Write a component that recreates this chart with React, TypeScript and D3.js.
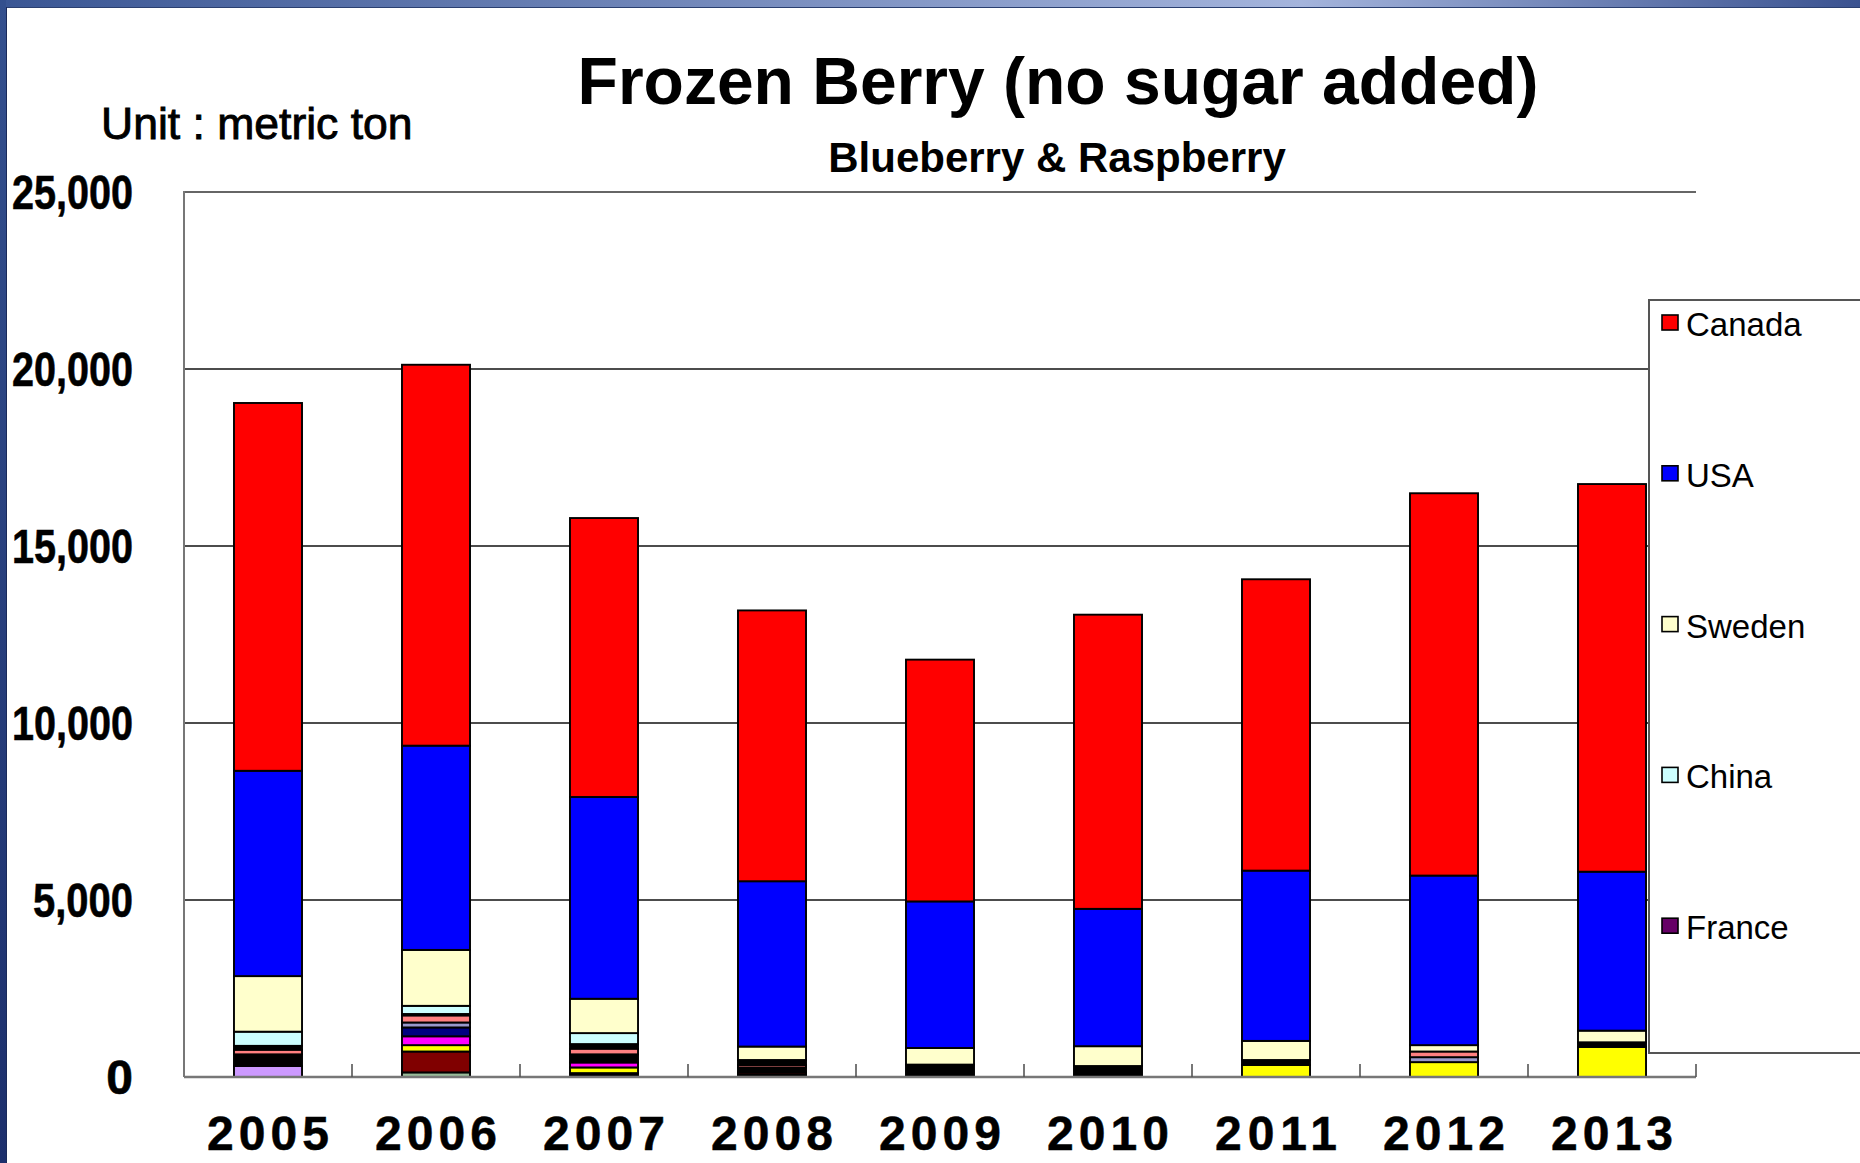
import React from "react";
import * as d3 from "d3";

const years = ["2005", "2006", "2007", "2008", "2009", "2010", "2011", "2012", "2013"];
const yTicks = [0, 5000, 10000, 15000, 20000, 25000];

// values in metric tons
const canada = [10390, 10760, 7880, 7650, 6830, 8310, 8230, 10800, 10950];
const usa = [5800, 5770, 5700, 4670, 4140, 3880, 4810, 4790, 4490];
const sweden = [1570, 1580, 970, 380, 470, 560, 540, 180, 330];
const china = [400, 230, 310, 0, 0, 0, 0, 0, 0];
const france = [0, 40, 0, 0, 0, 0, 0, 0, 0];
const otherA = [110, 0, 130, 140, 350, 310, 140, 0, 130];
const salmonSeries = [130, 200, 160, 70, 0, 0, 0, 160, 0];
const graySeries = [0, 140, 0, 0, 0, 0, 0, 140, 0];
const otherB = [330, 0, 230, 140, 0, 0, 0, 0, 0];
const navySeries = [0, 250, 0, 0, 0, 0, 0, 0, 0];
const magentaSeries = [0, 250, 140, 0, 0, 0, 0, 0, 0];
const yellowSeries = [0, 180, 160, 0, 0, 0, 340, 420, 850];
const maroonSeries = [0, 590, 0, 60, 0, 0, 0, 0, 0];
const lavenderSeries = [310, 0, 0, 0, 0, 0, 0, 0, 0];
const greenSeries = [0, 130, 0, 0, 0, 0, 0, 0, 0];
const otherC = [0, 0, 110, 70, 0, 0, 0, 0, 0];

// bottom -> top stacking order
const seriesList = [
  { key: "Other C", values: otherC, color: "#000000" },
  { key: "Other 7", values: greenSeries, color: "#99BB99" },
  { key: "Other 6", values: lavenderSeries, color: "#CC99FF" },
  { key: "Other 5", values: maroonSeries, color: "#800000" },
  { key: "Other 4", values: yellowSeries, color: "#FFFF00" },
  { key: "Other 3", values: magentaSeries, color: "#FF00FF" },
  { key: "Other 2", values: navySeries, color: "#000080" },
  { key: "Other B", values: otherB, color: "#000000" },
  { key: "Other 1b", values: graySeries, color: "#9999CC" },
  { key: "Other 1", values: salmonSeries, color: "#FF8080" },
  { key: "Other A", values: otherA, color: "#000000" },
  { key: "France", values: france, color: "#660066" },
  { key: "China", values: china, color: "#CCFFFF" },
  { key: "Sweden", values: sweden, color: "#FFFFCC" },
  { key: "USA", values: usa, color: "#0000FF" },
  { key: "Canada", values: canada, color: "#FF0000" },
];

const legendKeys = ["Canada", "USA", "Sweden", "China", "France"];

export default function App() {
  const W = 1860, H = 1163;
  const left = 184, right = 1696, top = 192, bottom = 1077;
  const x = d3.scaleBand<string>().domain(years).range([left, right]).padding(0);
  const y = d3.scaleLinear().domain([0, 25000]).range([bottom, top]);
  const barW = x.bandwidth() * 0.405;

  const table = years.map((yr, i) => {
    const row: any = { year: yr };
    seriesList.forEach((s) => (row[s.key] = s.values[i]));
    return row;
  });
  const stacked = d3.stack().keys(seriesList.map((s) => s.key))(table);
  const colorOf: Record<string, string> = {};
  seriesList.forEach((s) => (colorOf[s.key] = s.color));

  const font = "'Liberation Sans', Arial, sans-serif";

  return (
    <svg width={W} height={H} style={{ position: "fixed", left: 0, top: 0, background: "#fff" }}>
      <defs>
        <linearGradient id="topband" x1="0" x2="1" y1="0" y2="0">
          <stop offset="0" stopColor="#3a5694" />
          <stop offset="0.7" stopColor="#a4b4dc" />
          <stop offset="1" stopColor="#3a5290" />
        </linearGradient>
        <linearGradient id="leftband" x1="0" x2="0" y1="0" y2="1">
          <stop offset="0" stopColor="#34508e" />
          <stop offset="1" stopColor="#1c2f6c" />
        </linearGradient>
      </defs>
      <rect x={0} y={0} width={W} height={H} fill="#fff" />

      {/* gridlines */}
      {yTicks.slice(1).map((t) => (
        <line key={t} x1={left} x2={right} y1={y(t)} y2={y(t)}
          stroke={t === 25000 ? "#666" : "#111"} strokeWidth={t === 25000 ? 2 : 1.4} />
      ))}

      {/* bars */}
      {stacked.map((layer) => (
        <g key={layer.key} fill={colorOf[layer.key]}>
          {layer.map((d, i) => {
            const h = y(d[0]) - y(d[1]);
            if (h <= 0) return null;
            const cx = (x(years[i]) as number) + x.bandwidth() / 2;
            return (
              <rect key={i} x={cx - barW / 2} y={y(d[1])} width={barW} height={h}
                stroke="#000" strokeWidth={1.9} />
            );
          })}
        </g>
      ))}

      {/* axes */}
      <line x1={left} x2={left} y1={top - 1} y2={bottom} stroke="#777" strokeWidth={2} />
      <line x1={left} x2={right} y1={bottom} y2={bottom} stroke="#777" strokeWidth={2.5} />
      {years.map((yr, i) => {
        const bx = (x(yr) as number) + x.bandwidth();
        return <line key={"tk" + i} x1={bx} x2={bx} y1={bottom} y2={bottom - 13} stroke="#555" strokeWidth={1.6} />;
      })}

      {/* y tick labels */}
      {yTicks.map((t) => {
        const label = d3.format(",")(t);
        return (
          <text key={"yl" + t} x={133} y={y(t)} dy="0.36em" textAnchor="end" fontFamily={font}
            fontWeight="bold" fontSize={48} stroke="#000" strokeWidth={0.6}
            {...(label.length > 1 ? { textLength: label.length === 5 ? 100 : 121, lengthAdjust: "spacingAndGlyphs" } : {})}>
            {label}
          </text>
        );
      })}

      {/* x labels */}
      {years.map((yr) => {
        const cx = (x(yr) as number) + x.bandwidth() / 2;
        return (
          <text key={"xl" + yr} x={cx - 61} y={1150} fontFamily={font} fontWeight="bold" fontSize={48}
            textLength={122} lengthAdjust="spacing" stroke="#000" strokeWidth={0.5}>
            {yr}
          </text>
        );
      })}

      {/* titles */}
      <text x={1058} y={104} textAnchor="middle" fontFamily={font} fontWeight="bold" fontSize={66}>
        Frozen Berry (no sugar added)
      </text>
      <text x={1057} y={172} textAnchor="middle" fontFamily={font} fontWeight="bold" fontSize={42}>
        Blueberry &amp; Raspberry
      </text>
      <text x={101} y={139} fontFamily={font} fontSize={44.5} stroke="#000" strokeWidth={0.9}>
        Unit : metric ton
      </text>

      {/* legend */}
      <rect x={1649} y={300} width={260} height={753} fill="#fff" stroke="#555" strokeWidth={2} />
      {legendKeys.map((k, i) => {
        const by = 336 + i * 150.8;
        return (
          <g key={"lg" + k}>
            <rect x={1662} y={by - 21} width={16} height={15} fill={colorOf[k]} stroke="#000" strokeWidth={1.6} />
            <text x={1686} y={by} fontFamily={font} fontSize={33}>{k}</text>
          </g>
        );
      })}

      {/* slide frame */}
      <rect x={0} y={0} width={W} height={7} fill="url(#topband)" />
      <line x1={0} x2={W} y1={7.5} y2={7.5} stroke="#2a3f70" strokeWidth={1} />
      <rect x={0} y={0} width={6} height={H} fill="url(#leftband)" />
      <line x1={6.5} x2={6.5} y1={7} y2={H} stroke="#1a2a5a" strokeWidth={1} />
    </svg>
  );
}
